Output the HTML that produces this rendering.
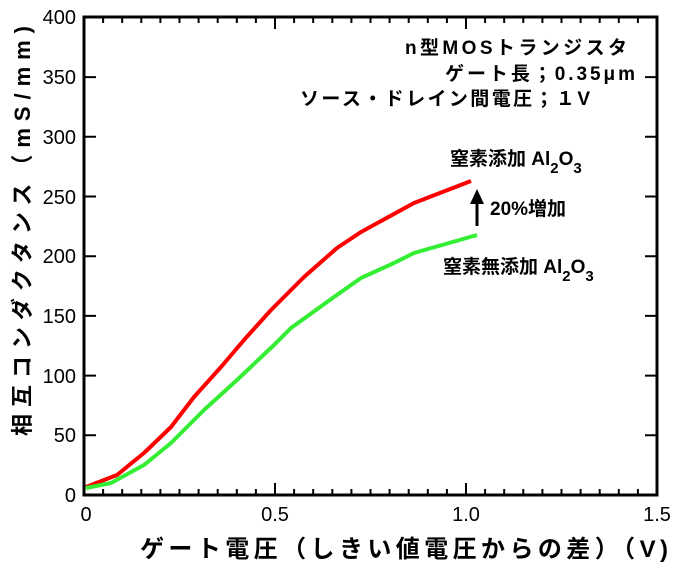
<!DOCTYPE html>
<html><head><meta charset="utf-8"><style>
body{margin:0;background:#fff}
text{font-family:"Liberation Sans","Noto Sans CJK JP",sans-serif;fill:#000}
</style></head><body>
<svg width="685" height="568" viewBox="0 0 685 568" xmlns="http://www.w3.org/2000/svg">
<rect width="685" height="568" fill="#fff"/>
<g stroke="#000" stroke-width="3" fill="none">
<rect x="84" y="17" width="573" height="478"/>
</g>
<g stroke="#000" stroke-width="2">
<line x1="275" y1="495" x2="275" y2="483"/><line x1="466" y1="495" x2="466" y2="483"/>
<line x1="275" y1="17" x2="275" y2="29"/><line x1="466" y1="17" x2="466" y2="29"/>
<path d="M103.1 495v-6M122.2 495v-6M141.3 495v-6M160.4 495v-6M179.5 495v-6M198.6 495v-6M217.7 495v-6M236.8 495v-6M255.9 495v-6M294.1 495v-6M313.2 495v-6M332.3 495v-6M351.4 495v-6M370.5 495v-6M389.6 495v-6M408.7 495v-6M427.8 495v-6M446.9 495v-6M485.1 495v-6M504.2 495v-6M523.3 495v-6M542.4 495v-6M561.5 495v-6M580.6 495v-6M599.7 495v-6M618.8 495v-6M637.9 495v-6"/>
<path d="M103.1 17v6M122.2 17v6M141.3 17v6M160.4 17v6M179.5 17v6M198.6 17v6M217.7 17v6M236.8 17v6M255.9 17v6M294.1 17v6M313.2 17v6M332.3 17v6M351.4 17v6M370.5 17v6M389.6 17v6M408.7 17v6M427.8 17v6M446.9 17v6M485.1 17v6M504.2 17v6M523.3 17v6M542.4 17v6M561.5 17v6M580.6 17v6M599.7 17v6M618.8 17v6M637.9 17v6"/>
<path d="M84 435.3h12M84 375.6h12M84 315.9h12M84 256.2h12M84 196.5h12M84 136.8h12M84 77.1h12"/>
<path d="M657 435.3h-12M657 375.6h-12M657 315.9h-12M657 256.2h-12M657 196.5h-12M657 136.8h-12M657 77.1h-12"/>
</g>
<g font-size="20" text-anchor="end">
<text x="76" y="502">0</text><text x="76" y="442">50</text><text x="76" y="383">100</text><text x="76" y="323">150</text><text x="76" y="263">200</text><text x="76" y="204">250</text><text x="76" y="144">300</text><text x="76" y="84">350</text><text x="76" y="24">400</text>
</g>
<g font-size="20" text-anchor="middle">
<text x="86" y="521">0</text><text x="275" y="521">0.5</text><text x="466" y="521">1.0</text><text x="657" y="521">1.5</text>
</g>
<text x="140" y="557" font-size="24" font-weight="bold" textLength="528" lengthAdjust="spacing">ゲート電圧（しきい値電圧からの差）（V)</text>
<text transform="translate(30,436) rotate(-90)" font-size="22" font-weight="bold" textLength="410" lengthAdjust="spacing">相互コンダクタンス（mS/mm)</text>
<polyline fill="none" stroke="#ff0000" stroke-width="4" stroke-linejoin="round" points="86,487 117,475 144,453 171,427 194,397 221,367 244,340 271,310 304,277 337,248 361,232 414,203 471,181"/>
<polyline fill="none" stroke="#33ee33" stroke-width="4" stroke-linejoin="round" points="86,488 111,483 144,465 171,443 204,410 237,380 274,345 291,328 334,297 361,278 394,263 414,253 477,235"/>
<g font-size="19" font-weight="bold">
<text x="405" y="54" textLength="222" lengthAdjust="spacing">n型MOSトランジスタ</text>
<text x="445" y="80" textLength="190" lengthAdjust="spacing">ゲート長；0.35μm</text>
<text x="300" y="105" textLength="290" lengthAdjust="spacing">ソース・ドレイン間電圧；１V</text>
</g>
<text x="450" y="165" font-size="19" font-weight="bold">窒素添加 Al<tspan dy="8" font-size="15">2</tspan><tspan dy="-8">O</tspan><tspan dy="8" font-size="15">3</tspan></text>
<text x="443" y="273" font-size="19" font-weight="bold">窒素無添加 Al<tspan dy="8" font-size="15">2</tspan><tspan dy="-8">O</tspan><tspan dy="8" font-size="15">3</tspan></text>
<text x="490" y="215" font-size="19" font-weight="bold">20%増加</text>
<line x1="477" y1="226" x2="477" y2="200" stroke="#000" stroke-width="3"/>
<polygon points="470,204 484,204 477,189" fill="#000"/>
</svg>
</body></html>
